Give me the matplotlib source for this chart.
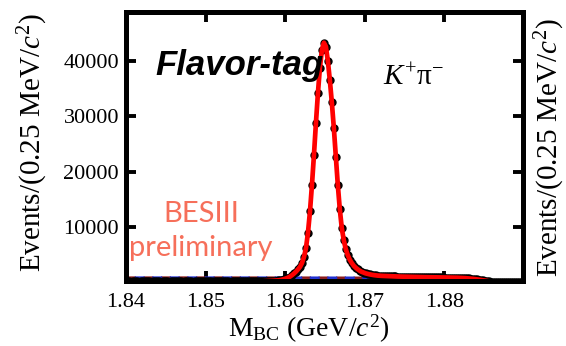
import numpy as np
import matplotlib.pyplot as plt

plt.rcParams['font.family'] = 'Liberation Serif'
plt.rcParams['mathtext.fontset'] = 'custom'
plt.rcParams['mathtext.rm'] = 'Liberation Serif'
plt.rcParams['mathtext.it'] = 'Liberation Serif:italic'

# M_BC bins of 0.25 MeV between 1.84 and 1.89 GeV
mbc = 1.840125 + 0.00025*np.arange(200)

counts = [
    150, 160, 140, 150, 170, 150, 140, 160, 150, 150,
    160, 150, 140, 150, 160, 170, 150, 140, 150, 160,
    150, 140, 160, 150, 150, 170, 160, 150, 140, 150,
    160, 150, 150, 140, 160, 150, 170, 150, 160, 150,
    150, 160, 150, 140, 150, 160, 150, 170, 150, 160,
    160, 150, 140, 160, 150, 150, 170, 160, 150, 160,
    150, 170, 160, 150, 160, 170, 160, 180, 170, 190,
    200, 210, 230, 250, 280, 310, 350, 400, 480, 580,
    700, 850, 1050, 1300, 1600, 1950, 2350, 2800, 3500, 4600,
    6200, 9000, 12800, 17600, 23000, 28800, 34200, 38800, 42000, 43300,
    42600, 40000, 36500, 32500, 27900, 22700, 17600, 13200, 9800, 7600,
    6000, 4900, 4100, 3500, 3000, 2650, 2350, 2100, 1900, 1750,
    1620, 1520, 1440, 1370, 1310, 1260, 1220, 1190, 1170, 1160,
    1150, 1130, 1110, 1090, 1070, 1060, 1050, 1040, 1030, 1010,
    1000, 990, 985, 975, 970, 960, 955, 950, 940, 935,
    930, 925, 920, 915, 910, 900, 895, 890, 885, 875,
    870, 865, 860, 855, 850, 840, 830, 815, 800, 780,
    760, 730, 700, 660, 620, 580, 530, 480, 420, 360,
    300, 230, 160, 100, 50, 20, 0, 0, 0, 0,
    0, 0, 0, 0, 0, 0, 0, 0, 0, 0,
]

# background shape
bkg_mbc = [1.840, 1.850, 1.860, 1.870, 1.875, 1.880, 1.8835, 1.8855, 1.8865]
bkg_evt = [850, 850, 840, 820, 800, 770, 650, 400, 0]

xticks = [1.84, 1.85, 1.86, 1.87, 1.88]
yticks = [10000, 20000, 30000, 40000]

fig = plt.figure(figsize=(5.66, 3.46), dpi=100)
ax = fig.add_axes([0.2226, 0.1879, 0.7014, 0.7775])

ax.plot(bkg_mbc, bkg_evt, color='#8b1a1a', lw=1.8, ls=(0, (4, 3)), zorder=2)
ax.plot(bkg_mbc, bkg_evt, color='#1f2fd0', lw=1.8, ls=(3.5, (4, 3)), zorder=2)
ax.plot(mbc, counts, 'o', color='black', ms=5, zorder=3)
ax.plot(mbc, counts, color='red', lw=3.4, zorder=4)

ax.set_xlim(1.84, 1.8899)
ax.set_ylim(241, 48856)
ax.set_xticks(xticks)
ax.set_xticklabels(['1.84', '1.85', '1.86', '1.87', '1.88'])
ax.set_yticks(yticks)
for sp in ax.spines.values():
    sp.set_linewidth(3.6)
    sp.set_zorder(10)
ax.tick_params(direction='in', length=7, width=2.8, top=True, right=True,
               labelsize=16, pad=5)
ax.tick_params(axis='x', pad=9)

ax.text(0.073, 0.766, 'Flavor-tag', transform=ax.transAxes, family='Liberation Sans',
        weight='bold', style='italic', fontsize=25, va='baseline', zorder=6)
ax.text(0.647, 0.729, r'$K^{+}\mathrm{\pi}^{-}$', transform=ax.transAxes,
        fontsize=21, va='baseline', zorder=6)
ax.text(0.189, 0.219, 'BESIII', transform=ax.transAxes, family='Lato',
        fontsize=21, color='#f66f5a', ha='center', va='baseline', zorder=6)
ax.text(0.189, 0.093, 'preliminary', transform=ax.transAxes, family='Lato',
        fontsize=21, color='#f66f5a', ha='center', va='baseline', zorder=6)

fig.text(0.058, 0.587, r'Events/(0.25 MeV/$c^2$)', rotation=90, fontsize=21,
         ha='center', va='center')
fig.text(0.972, 0.573, r'Events/(0.25 MeV/$c^2$)', rotation=90, fontsize=21,
         ha='center', va='center')
fig.text(0.545, 0.026, r'M$_{\rm BC}$ (GeV/$c^2$)', fontsize=20,
         ha='center', va='baseline')

fig.savefig('out.png', dpi=100)
